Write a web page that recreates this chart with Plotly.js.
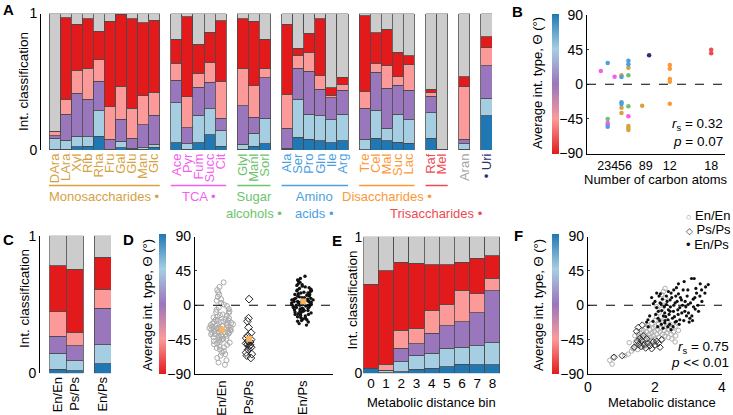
<!DOCTYPE html>
<html><head><meta charset="utf-8">
<script src="https://cdn.plot.ly/plotly-3.0.1.min.js"></script>
<style>html,body{margin:0;padding:0;background:#fff}#chart{width:733px;height:415px}</style>
</head><body><div id="chart"></div>
<script>
// ---------------- DATA ----------------
// Panel A
const aLabels = ['DAra','LAra','Xyl','Rib','Rha','Fru','Gal','Glu','Man','Glc',
  'Ace','Pyr','Fum','Succ','Cit','Glyl','Manl','Sorl','Ala','Ser','Pro','Gln','Ile','Arg',
  'Tre','Cel','Mal','Suc','Lac','Raf','Mel','Aran','• Uri'];
const aGroupSizes = [10,5,3,6,5,2,1,1];
const aGroupNames = ['Monosaccharides •','TCA •','Sugar<br>alcohols •','Amino<br>acids •','Disaccharides •','Trisaccharides •','',''];
const aGroupColors = ['#d5a23f','#f45ef0','#6cc46c','#4c9fdf','#fc9838','#ef4a52','#a3a3a3','#2f2f6c'];
const aDarkBlue = [.007,.007,.024,.029,.102,.003,.017,.005,.005,.020, .054,.007,.054,.110,.029, .005,.029,.044, .007,.093,.078,.066,.054,.066, .003,.085,.066,.056,.049, .085,.007, .007, .251];
const aLightBlue= [.078,.066,.078,.069,.186,.004,.046,.007,.012,.021, .292,.037,.202,.192,.112, .036,.093,.188, .005,.278,.183,.185,.166,.197, .075,.208,.093,.207,.171, .188,0, .037, .127];
const aPurple   = [.020,.188,.313,.275,.217,.073,.164,.073,.168,.213, .166,.119,.203,.196,.091, .283,.117,.297, .147,.227,.317,.193,.163,.176, .227,.275,.292,.213,.219, .122,0, .034, .239];
const aPink     = [.034,.112,.165,.225,.158,.237,.239,.220,.213,.168, .122,.227,.102,.141,.273, .274,.232,.069, .248,.097,.137,.100,.019,.044, .127,.066,.166,.061,.188, .027,0, .385, .132];
const aRed      = [0,.595,.340,.365,.208,.627,.527,.658,.536,.529, .178,.586,.215,.222,.441, .365,.473,.212, .515,.049,.139,.419,.054,.049, .551,.225,.268,.178,.063, .024,0, .074, .080];
const aGray     = [.861,.032,.080,.037,.129,.056,.007,.037,.066,.049, .188,.024,.224,.139,.054, .037,.056,.190, .078,.256,.146,.037,.544,.468, .017,.141,.115,.285,.310, .554,.993, .463, .171];

// Panel B (number of carbon atoms vs average interaction type)
const bMonoX=[5,5,5,6,6,6,6,8],   bMonoY=[11.6,-30.4,-37.4,21.5,-54.3,-56.9,-59.5,-27.8];
const bTcaX=[2,3,3,4,6],          bTcaY=[17.2,-50.4,-52.6,9.8,-41.7];
const bSugarX=[3,6,6],            bSugarY=[-45.2,11.6,-28.7];
const bAminoX=[3,3,5,5,5,6,6],    bAminoY=[27.6,-55.1,9.4,-23.5,-25.7,30.6,25.9];
const bDiX=[12,12,12,12,12],      bDiY=[25,20.2,6.8,3.4,-25.2];
const bTriX=[18,18],              bTriY=[44.9,40.2];
const bUriX=[9],                  bUriY=[37.6];
const bTicks=[2,3,4,5,6,8,9,12,18];

// Panel C
const cLabels=['En/En','Ps/Ps','En/Ps'];
const cPos=[0,1,2.63];
const cDarkBlue=[.029,.017,.068], cLightBlue=[.116,.075,.138], cPurple=[.126,.107,.266],
      cPink=[.177,.099,.138], cRed=[.332,.457,.233], cGray=[.220,.245,.157];

// Panel D
const dPos=[1,2,4];
const dEnEn=[30,24,20,17,14,11,8,6,3,1,-1,-3,-5,-6,-8,-9,-10,-12,-13,-14,-15,-16,-17,-18,-19,-20,-20,-21,-22,-22,
  -23,-24,-24,-25,-26,-26,-27,-27,-28,-28,-29,-29,-30,-30,-31,-31,-32,-32,-33,-33,-34,-34,-35,-35,-36,-36,-37,-38,-38,-39,
  -40,-40,-41,-42,-43,-44,-44,-45,-46,-47,-48,-49,-50,-51,-52,-54,-55,-56,-58,-60,-62,-64,-66,-69,-72,-75,-78];
const dPsPs=[8,-17,-21,-29,-36,-40,-43,-45,-47,-48,-50,-51,-52,-54,-55,-58,-62,-64,-66,-69];
const dEnPs=[38,35,33,31,30,28,27,26,25,24,23,22,21,20,19,19,18,17,16,16,15,14,14,13,12,12,11,10,10,9,
  9,8,8,7,7,6,6,5,5,5,4,4,3,3,3,2,2,1,1,1,0,0,0,-1,-1,-2,-2,-3,-3,-4,
  -4,-5,-5,-6,-6,-7,-7,-8,-8,-9,-10,-10,-11,-12,-12,-13,-14,-15,-16,-17,-18,-19,-20,-21,-22,-24,-26];
const dMeanY=[-32,-44,5];

// Panel E
const eBins=[0,1,2,3,4,5,6,7,8];
const eDarkBlue=[.037,.005,.012,.029,.037,.049,.068,.061,.061];
const eLightBlue=[0,.012,.073,.105,.109,.134,.122,.141,.163];
const ePurple=[0,.007,.098,.081,.147,.166,.188,.242,.381];
const ePink=[0,.042,.134,.114,.166,.158,.227,.141,.090];
const eRed=[.614,.683,.495,.476,.334,.286,.207,.256,.164];
const eGray=[.349,.251,.188,.195,.207,.207,.188,.159,.141];

// Panel F
const fEnEnD=[0.65,0.72,0.75,1.1,1.2,1.23,1.3,1.35,1.4,1.42,
  1.45,1.48,1.5,1.52,1.55,1.55,1.58,1.6,1.6,1.62,
  1.65,1.65,1.68,1.7,1.7,1.72,1.75,1.75,1.78,1.8,
  1.8,1.82,1.85,1.85,1.88,1.9,1.9,1.92,1.95,1.95,
  1.98,2.0,2.0,2.02,2.05,2.05,2.05,2.08,2.1,2.1,
  2.12,2.15,2.15,2.18,2.2,2.2,2.2,2.22,2.25,2.25,
  2.25,2.28,2.3,2.3,2.3,2.32,2.35,2.35,2.38,2.4,
  2.4,2.45,2.48,2.5,2.5,2.55,2.6,2.6,2.62,2.7,
  1.5,1.4];
const fEnEnT=[-72,-77,-68,-66,-64,-49,-60,-57,-55,-48,
  -51,-58,-44,-53,-40,-49,-46,-36,-55,-42,
  -50,-33,-38,-30,-46,-53,-41,-35,-48,-27,
  -44,-38,-32,-50,-42,-24,-36,-46,-30,-40,
  -34,-20,-44,-28,-38,-15,-2,-32,-42,-25,
  -10,-35,-20,-30,-45,-5,14,-38,-26,0,
  18,-33,-18,-40,22,10,-28,-36,-22,-42,
  -32,-25,-38,-30,-44,-35,-28,-48,-40,-33,
  -38,-40];
const fPsPsD=[0.78,1.02,1.38,1.45,1.48,1.5,1.52,1.55,1.58,1.6,1.62,1.65,1.68,1.72,1.75,1.78,1.85,1.9,1.95,2.0,2.05,2.1,2.15,2.2];
const fPsPsT=[-68,-66,-55,-34,-47,-29,-51,-43,-54,-46,-26,-40,-52,-56,-44,-50,-53,-57,-48,-52,-47,-50,-55,-45];
const fEnPsD=[1.9,2.0,2.05,2.12,2.15,2.2,2.25,2.29,2.34,2.4,
  2.45,2.48,2.52,2.55,2.6,2.62,2.64,2.69,2.74,2.79,
  2.84,2.87,2.89,2.94,2.99,3.04,3.09,3.17,3.19,3.24,
  3.34,3.39,3.59,3.51,3.49,1.84,1.79,1.94,2.09,2.19,
  2.29,2.39,2.44,2.54,2.64,2.74,2.34,2.1,2.18,2.22,
  2.28,2.32,2.36,2.42,2.46,2.5,2.56,2.58,2.6,2.66,
  2.68,2.7,2.72,2.76,2.8,2.82,2.86,2.9,2.92,2.96,
  3.0,3.02,3.06,3.1,3.12,3.14,3.2,3.22,3.28,3.3,
  3.35,3.4,1.95,2.02,2.08,2.14,2.24,2.38,2.48,2.16,
  2.4,2.56,2.3,2.45,2.05,2.7,2.98,3.15,1.8,1.75];
const fEnPsT=[10,5,-3,12,3,-7,-14,-10,1,-6,
  7,16,-17,-8,3,12,23,-12,-3,7,
  20,31,-8,-14,1,-17,35,35,10,16,
  12,20,27,24,16,-14,-19,-21,-17,-25,
  -23,-19,-25,-28,-21,-19,12,-8,2,8,
  -2,-15,5,-12,-2,10,0,-15,-22,5,
  -6,15,-25,10,-10,0,-20,5,-2,12,
  -10,-22,3,-14,-20,8,-5,22,0,-8,
  28,5,2,-12,-28,-20,-30,-28,-32,15,
  18,20,-20,-8,16,28,20,-2,-28,-22];

// ---------------- STYLE / LAYOUT ----------------
const W=733,H=415;
const px=v=>v/W, py=v=>1-v/H;
const FONT='"Liberation Sans", Arial, Helvetica, sans-serif';
const classColors=['#1f78b4','#a6cee3','#9a76bd','#fb9a99','#e31a1c','#cccccc'];
const cscale=[[0,'#e31a1c'],[0.25,'#fb9a99'],[0.5,'#9a76bd'],[0.75,'#a6cee3'],[1,'#1f78b4']];

// slot positions for panel A
const aPos=[], aColorOf=[], gFirst=[], gLast=[];
let p=0;
aGroupSizes.forEach((n,g)=>{gFirst.push(p);for(let i=0;i<n;i++){aPos.push(p);aColorOf.push(aGroupColors[g]);p++;}gLast.push(p-1);p++;});
const aTickText=aLabels.map((l,i)=>`<span style="color:${aColorOf[i]}">${l}</span>`);

function stack(x, segs, xa, ya){
  return segs.map((s,i)=>({type:'bar',x:x,y:s,xaxis:xa,yaxis:ya,width:1,
    marker:{color:classColors[i],line:{color:'#4a4a4a',width:0.8}},hoverinfo:'skip',showlegend:false}));
}
const traces=[];
traces.push(...stack(aPos,[aDarkBlue,aLightBlue,aPurple,aPink,aRed,aGray],'x','y'));
traces.push(...stack(cPos,[cDarkBlue,cLightBlue,cPurple,cPink,cRed,cGray],'x3','y3'));
traces.push(...stack(eBins,[eDarkBlue,eLightBlue,ePurple,ePink,eRed,eGray],'x5','y5'));

// B scatter
[[bMonoX,bMonoY,0],[bTcaX,bTcaY,1],[bSugarX,bSugarY,2],[bAminoX,bAminoY,3],[bDiX,bDiY,4],[bTriX,bTriY,5],[bUriX,bUriY,7]]
 .forEach(([x,y,g])=>traces.push({type:'scatter',mode:'markers',x:x,y:y,xaxis:'x2',yaxis:'y2',
   marker:{color:aGroupColors[g],size:4.5},hoverinfo:'skip',showlegend:false}));

// colorbars
function cbar(xa,ya,left,top,bottom){
  return {type:'scatter',mode:'markers',x:[0],y:[0],xaxis:xa,yaxis:ya,hoverinfo:'skip',showlegend:false,
    marker:{color:[0],cmin:-90,cmax:90,colorscale:cscale,opacity:0,size:1,showscale:true,
      colorbar:{x:px(left),xanchor:'left',y:py(bottom),yanchor:'bottom',len:bottom-top,lenmode:'pixels',
        thickness:6.5,thicknessmode:'pixels',xpad:0,ypad:0,outlinewidth:0,showticklabels:false,ticks:''}}};
}
traces.push(cbar('x2','y2',552,14,153.5));
traces.push(cbar('x4','y4',159.3,234,374));
traces.push(cbar('x6','y6',551.7,234,373.5));

// D swarms
function swarm(x0,y,w,marker){
  return {type:'box',x0:x0,y:y,xaxis:'x4',yaxis:'y4',boxpoints:'all',jitter:1,pointpos:0,width:w,
    fillcolor:'rgba(0,0,0,0)',line:{width:0,color:'rgba(0,0,0,0)'},marker:marker,hoverinfo:'skip',showlegend:false};
}
traces.push(swarm(dPos[0],dEnEn,0.95,{symbol:'circle-open',size:5,color:'#a9a9a9',line:{width:1}}));
traces.push(swarm(dPos[1],dPsPs,0.3,{symbol:'diamond-open',size:6,color:'#222',line:{width:1}}));
traces.push(swarm(dPos[2],dEnPs,1.0,{symbol:'circle',size:3.4,color:'#111'}));
traces.push({type:'scatter',mode:'markers',x:dPos,y:dMeanY,xaxis:'x4',yaxis:'y4',
  marker:{symbol:'square',size:6,color:'#f8b45e'},hoverinfo:'skip',showlegend:false});

// F scatter
traces.push({type:'scatter',mode:'markers',x:fEnEnD,y:fEnEnT,xaxis:'x6',yaxis:'y6',
  marker:{symbol:'circle-open',size:4.5,color:'#b0b0b0',line:{width:1}},hoverinfo:'skip',showlegend:false});
traces.push({type:'scatter',mode:'markers',x:fPsPsD,y:fPsPsT,xaxis:'x6',yaxis:'y6',
  marker:{symbol:'diamond-open',size:5,color:'#333',line:{width:1}},hoverinfo:'skip',showlegend:false});
traces.push({type:'scatter',mode:'markers',x:fEnPsD,y:fEnPsT,xaxis:'x6',yaxis:'y6',
  marker:{symbol:'circle',size:3.2,color:'#111'},hoverinfo:'skip',showlegend:false});

const base={showgrid:false,zeroline:false,fixedrange:true,ticks:'',linecolor:'#000',linewidth:1.2};
const layout={
  width:W,height:H,margin:{l:0,r:0,t:0,b:0},paper_bgcolor:'#fff',plot_bgcolor:'rgba(0,0,0,0)',
  font:{family:FONT,size:13,color:'#000'},barmode:'stack',bargap:0,showlegend:false,
  xaxis:{...base,domain:[px(49),px(492)],range:[-0.5,39.5],anchor:'y',tickmode:'array',tickvals:aPos,ticktext:aTickText,tickangle:-90,tickfont:{size:13},showline:false},
  yaxis:{...base,domain:[py(150),py(13.5)],range:[0,1],anchor:'free',position:px(40),showline:true,tickvals:[0,1],tickfont:{size:14}},
  xaxis2:{...base,domain:[px(587),px(725)],range:[0,20],anchor:'y2',tickmode:'array',tickvals:bTicks,ticktext:bTicks.map(String),tickangle:0,tickfont:{size:12.5},showline:true},
  yaxis2:{...base,domain:[py(153.5),py(15)],range:[-90,90],anchor:'x2',tickvals:[-90,-45,0,45,90],tickfont:{size:14},showline:true,ticks:'inside',ticklen:2},
  xaxis3:{...base,domain:[px(49.3),px(111)],range:[-0.5,3.13],anchor:'y3',tickmode:'array',tickvals:cPos,ticktext:cLabels,tickangle:-90,tickfont:{size:13},showline:false},
  yaxis3:{...base,domain:[py(373.3),py(235.7)],range:[0,1],anchor:'free',position:px(39),showline:true,tickvals:[0,1],tickfont:{size:14}},
  xaxis4:{...base,domain:[px(195),px(333)],range:[0,5.1],anchor:'y4',tickmode:'array',tickvals:dPos,ticktext:cLabels,tickangle:-90,tickfont:{size:13},showline:true},
  yaxis4:{...base,domain:[py(374),py(236.5)],range:[-90,90],anchor:'x4',tickvals:[-90,-45,0,45,90],tickfont:{size:14},showline:true,ticks:'inside',ticklen:2},
  xaxis5:{...base,domain:[px(363.3),px(500)],range:[-0.5,8.5],anchor:'y5',tickmode:'array',tickvals:eBins,ticktext:eBins.map(String),tickangle:0,tickfont:{size:13.5},showline:false},
  yaxis5:{...base,domain:[py(373.3),py(236.7)],range:[0,1],anchor:'x5',tickvals:[0,1],tickfont:{size:14},showline:false},
  xaxis6:{...base,domain:[px(588),px(722)],range:[0,4],anchor:'y6',tickvals:[0,2,4],tickfont:{size:14},tickangle:0,showline:true},
  yaxis6:{...base,domain:[py(374),py(236.5)],range:[-90,90],anchor:'x6',tickvals:[-90,-45,0,45,90],tickfont:{size:14},showline:true,ticks:'inside',ticklen:2},
  shapes:[],annotations:[]
};
// dashed zero lines
['2','4','6'].forEach(k=>layout.shapes.push({type:'line',xref:`x${k} domain`,x0:0,x1:1,yref:`y${k}`,y0:0,y1:0,line:{color:'#000',width:1.2,dash:'dash'}}));
// group underlines & labels in A (Trisaccharides label sits on the second text line)
aGroupNames.forEach((name,g)=>{
  if(!name) return;
  const top = name.startsWith('Trisaccharides') ? 204 : 187;
  layout.shapes.push({type:'line',xref:'x',x0:gFirst[g]-0.5,x1:gLast[g]+0.5,yref:'paper',y0:py(185.5),y1:py(185.5),line:{color:aGroupColors[g],width:1.5}});
  layout.annotations.push({xref:'x',x:(gFirst[g]+gLast[g])/2,yref:'paper',y:py(top),xanchor:'center',yanchor:'top',
    text:name,showarrow:false,align:'center',font:{size:13,color:aGroupColors[g]}});
});
const ann=(x,y,text,o={})=>layout.annotations.push(Object.assign({xref:'paper',yref:'paper',x:px(x),y:py(y),text:text,showarrow:false,xanchor:'center',yanchor:'middle'},o));
// panel letters
[['A',8,10],['B',517,11],['C',8,239],['D',128,239],['E',337,240],['F',518,235]].forEach(([t,x,y])=>ann(x,y,`<b>${t}</b>`,{font:{size:15}}));
// axis titles
const yTitle1='Int. classification', yTitle2='Average int. type, Θ (°)';
ann(23,82,yTitle1,{textangle:-90,font:{size:13.5}});
ann(24,299,yTitle1,{textangle:-90,font:{size:13.5}});
ann(351.5,300,yTitle1,{textangle:-90,font:{size:13.5}});
ann(538,83,yTitle2,{textangle:-90,font:{size:13}});
ann(147,305,yTitle2,{textangle:-90,font:{size:13}});
ann(538,305,yTitle2,{textangle:-90,font:{size:13}});
ann(656,179,'Number of carbon atoms',{font:{size:13}});
ann(432,402,'Metabolic distance bin',{font:{size:13}});
ann(662,402,'Metabolic distance',{font:{size:13}});
// stats
ann(725,125,'<i>r</i><sub>s</sub> = 0.32',{xanchor:'right',font:{size:13.5}});
ann(725,141.5,'<i>p</i> = 0.07',{xanchor:'right',font:{size:13.5}});
ann(731,347,'<i>r</i><sub>s</sub> = 0.75',{xanchor:'right',font:{size:13.5}});
ann(731,362,'<i>p</i> &lt;&lt; 0.01',{xanchor:'right',font:{size:13.5}});
// legend for F
ann(684,215,'<span style="color:#999;font-size:9px">○</span> En/En',{xanchor:'left',font:{size:13}});
ann(684,229.5,'<span style="color:#333;font-size:9px">◇</span> Ps/Ps',{xanchor:'left',font:{size:13}});
ann(684,244,'<span style="color:#111;font-size:13px">•</span> En/Ps',{xanchor:'left',font:{size:13}});

Plotly.newPlot('chart',traces,layout,{staticPlot:true});
</script></body></html>
